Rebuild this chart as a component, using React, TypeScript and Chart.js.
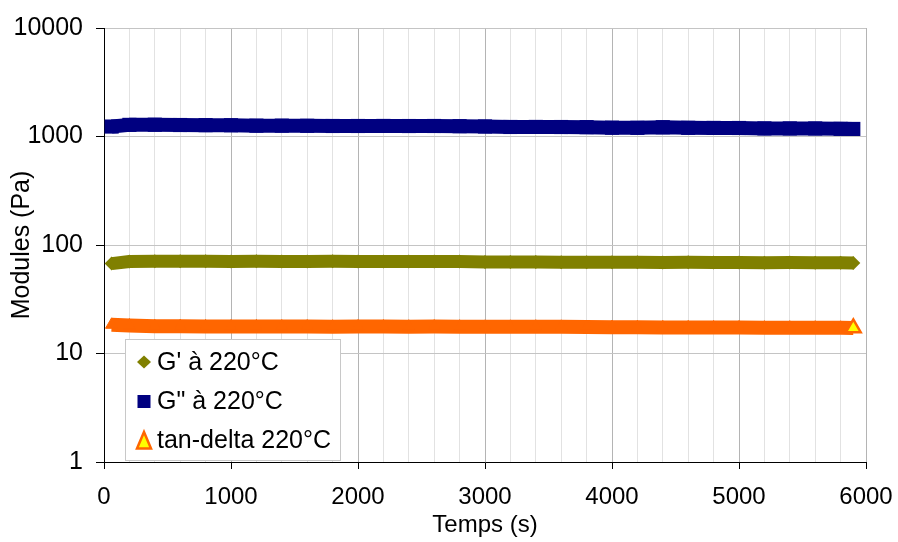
import React, { useEffect, useRef } from 'react';
import { Chart, registerables } from 'chart.js';

Chart.register(...registerables);

// ---- data ----
const times = [60, 200, 400, 600, 800, 1000, 1200, 1400, 1600, 1800, 2000, 2200, 2400, 2600, 2800, 3000, 3200, 3400, 3600, 3800, 4000, 4200, 4400, 4600, 4800, 5000, 5200, 5400, 5600, 5800, 5900];
const gPrime = [67.4, 70.4, 70.9, 70.7, 70.8, 70.6, 70.8, 70.5, 70.6, 70.7, 70.4, 70.5, 70.6, 70.3, 70.4, 69.8, 69.6, 69.7, 69.4, 69.5, 69.3, 69.4, 69.1, 69.2, 68.9, 69.0, 68.7, 68.8, 68.5, 68.6, 68.4];
const gDouble = [1235, 1280, 1284, 1276, 1273, 1270, 1259, 1259, 1255, 1250, 1250, 1251, 1249, 1250, 1245, 1237, 1224, 1225, 1223, 1220, 1205, 1202, 1218, 1202, 1200, 1198, 1188, 1187, 1186, 1176, 1174];
const tanDelta = [18.4, 18.1, 17.8, 17.8, 17.75, 17.7, 17.75, 17.7, 17.7, 17.65, 17.7, 17.7, 17.65, 17.7, 17.65, 17.6, 17.6, 17.65, 17.6, 17.55, 17.5, 17.45, 17.4, 17.4, 17.35, 17.35, 17.3, 17.3, 17.3, 17.25, 17.2];
const seriesNames = ["G' à 220°C", 'G" à 220°C', 'tan-delta 220°C'];
const yTickValues = [1, 10, 100, 1000, 10000];
const xMin = 0;
const xMax = 6000;
const xMinorStep = 200;
const xMajorStep = 1000;
const xTitle = 'Temps (s)';
const yTitle = 'Modules (Pa)';

const FONT = '"Liberation Sans", Arial, Helvetica, sans-serif';
const OLIVE = '#808000';
const NAVY = '#000080';
const ORANGE = '#FF6600';
const YELLOW = '#FFFF00';

const legendPlugin = {
  id: 'boxLegend',
  afterDraw(chart: any) {
    const { ctx, chartArea } = chart;
    const L = chartArea.left;
    const T = chartArea.top;
    ctx.save();
    const bx = Math.round(L + 21) + 0.5;
    const by = Math.round(T + 311) + 0.5;
    ctx.fillStyle = '#ffffff';
    ctx.fillRect(bx, by, 215, 121);
    ctx.strokeStyle = '#c8c8c8';
    ctx.lineWidth = 1;
    ctx.strokeRect(bx, by, 215, 121);

    const mx = L + 40;
    const rowC = [T + 334, T + 373.5, T + 412.5];
    const rowB = [T + 341.5, T + 380.5, T + 420];

    // diamond
    ctx.fillStyle = OLIVE;
    ctx.beginPath();
    ctx.moveTo(mx - 7, rowC[0]);
    ctx.lineTo(mx, rowC[0] - 6.5);
    ctx.lineTo(mx + 7, rowC[0]);
    ctx.lineTo(mx, rowC[0] + 6.5);
    ctx.closePath();
    ctx.fill();

    // square
    ctx.fillStyle = NAVY;
    ctx.fillRect(mx - 6.5, rowC[1] - 6.5, 13, 13);

    // triangle
    ctx.beginPath();
    ctx.moveTo(mx, rowC[2] - 8.5);
    ctx.lineTo(mx + 7, rowC[2] + 8);
    ctx.lineTo(mx - 7, rowC[2] + 8);
    ctx.closePath();
    ctx.fillStyle = YELLOW;
    ctx.fill();
    ctx.strokeStyle = ORANGE;
    ctx.lineWidth = 2.5;
    ctx.lineJoin = 'miter';
    ctx.stroke();

    ctx.fillStyle = '#000';
    ctx.font = `25px ${FONT}`;
    ctx.textAlign = 'left';
    ctx.textBaseline = 'alphabetic';
    seriesNames.forEach((name, i) => {
      ctx.fillText(name, L + 53, rowB[i]);
    });
    ctx.restore();
  },
};

export default function App() {
  const ref = useRef<HTMLCanvasElement>(null);

  useEffect(() => {
    if (!ref.current) return;
    const lastTan = tanDelta.length - 1;
    const chart = new Chart(ref.current, {
      type: 'line',
      data: {
        datasets: [
          {
            label: seriesNames[0],
            data: times.map((t, i) => ({ x: t, y: gPrime[i] })),
            borderColor: OLIVE,
            backgroundColor: OLIVE,
            borderWidth: 13,
            borderCapStyle: 'butt',
            borderJoinStyle: 'round',
            tension: 0,
            fill: false,
            pointStyle: 'rectRot',
            pointRadius: 7,
            pointBackgroundColor: OLIVE,
            pointBorderColor: OLIVE,
            pointBorderWidth: 0,
          },
          {
            label: seriesNames[1],
            data: times.map((t, i) => ({ x: t, y: gDouble[i] })),
            borderColor: NAVY,
            backgroundColor: NAVY,
            borderWidth: 14,
            borderCapStyle: 'butt',
            borderJoinStyle: 'round',
            tension: 0,
            fill: false,
            pointStyle: 'rect',
            pointRadius: 10,
            pointBackgroundColor: NAVY,
            pointBorderColor: NAVY,
            pointBorderWidth: 0,
          },
          {
            label: seriesNames[2],
            data: times.map((t, i) => ({ x: t, y: tanDelta[i] })),
            borderColor: ORANGE,
            backgroundColor: ORANGE,
            borderWidth: 14,
            borderCapStyle: 'butt',
            borderJoinStyle: 'round',
            tension: 0,
            fill: false,
            pointStyle: 'triangle',
            pointRadius: (c: any) => (c.dataIndex === lastTan ? 8.5 : 7),
            pointBackgroundColor: (c: any) => (c.dataIndex === lastTan ? YELLOW : ORANGE),
            pointBorderColor: ORANGE,
            pointBorderWidth: (c: any) => (c.dataIndex === lastTan ? 2.5 : 1),
          },
        ],
      },
      options: {
        responsive: false,
        animation: false,
        events: [],
        layout: { padding: { top: 25, right: 32, bottom: 0, left: 0 } },
        plugins: {
          legend: { display: false },
          tooltip: { enabled: false },
        },
        scales: {
          x: {
            type: 'linear',
            min: xMin,
            max: xMax,
            afterFit: (s: any) => {
              s.height = 80;
              s.paddingLeft = 0;
              s.paddingRight = 0;
            },
            ticks: {
              stepSize: xMinorStep,
              autoSkip: false,
              maxRotation: 0,
              minRotation: 0,
              padding: 14,
              color: '#000',
              font: { family: FONT, size: 24 },
              callback: (v: any) => (Math.round(Number(v)) % xMajorStep === 0 ? String(Math.round(Number(v))) : ''),
            },
            grid: {
              color: (c: any) =>
                c.tick && Math.round(c.tick.value) % xMajorStep === 0 ? '#b4b4b4' : '#e2e2e2',
              lineWidth: 1,
              tickLength: 7,
              tickColor: (c: any) =>
                c.tick && Math.round(c.tick.value) % xMajorStep === 0 ? '#000' : 'rgba(0,0,0,0)',
            },
            border: { color: '#000', width: 1 },
            title: {
              display: true,
              text: xTitle,
              color: '#000',
              font: { family: FONT, size: 24 },
              padding: { top: 0, bottom: 2 },
            },
          },
          y: {
            type: 'logarithmic',
            min: 1,
            max: 10000,
            afterBuildTicks: (s: any) => {
              s.ticks = yTickValues.map((v) => ({ value: v }));
            },
            afterFit: (s: any) => {
              s.width = 104;
            },
            ticks: {
              padding: 13,
              color: '#000',
              font: { family: FONT, size: 25 },
              callback: (v: any) => String(v),
            },
            grid: {
              color: '#c4c4c4',
              lineWidth: 1,
              tickLength: 8,
              tickColor: '#000',
            },
            border: { color: '#000', width: 1 },
            title: {
              display: true,
              text: yTitle,
              color: '#000',
              font: { family: FONT, size: 25 },
              padding: { top: 7, bottom: 0 },
            },
          },
        },
      } as any,
      plugins: [legendPlugin],
    });
    return () => chart.destroy();
  }, []);

  return (
    <div style={{ position: 'fixed', left: 0, top: 0, width: 898, height: 542, background: '#fff' }}>
      <canvas ref={ref} width={898} height={542} style={{ display: 'block', width: 898, height: 542 }} />
    </div>
  );
}
